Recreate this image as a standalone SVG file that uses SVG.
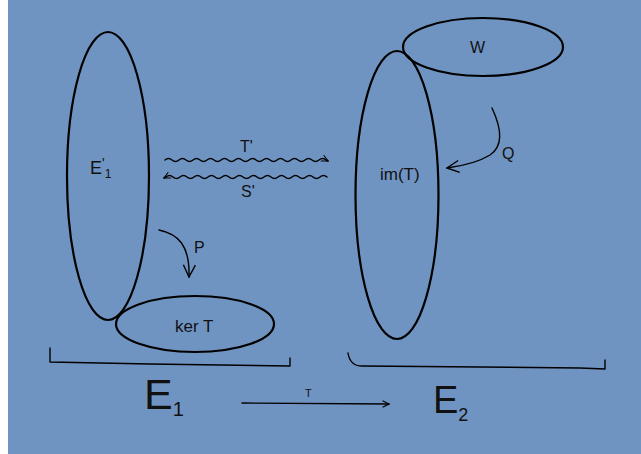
<svg xmlns="http://www.w3.org/2000/svg" width="641" height="454" viewBox="0 0 641 454">
<style>
.sh{fill:none;stroke:#000;stroke-width:2.2}
.ln{fill:none;stroke:#000;stroke-width:1.4;stroke-linecap:round;stroke-linejoin:round}
.t{font-family:"Liberation Sans",Arial,sans-serif;fill:#111}
</style>
<defs>
<marker id="ah" viewBox="0 0 10 10" refX="9" refY="5" markerWidth="8" markerHeight="8" markerUnits="userSpaceOnUse" orient="auto">
<path d="M1,1 L9,5 L1,9" fill="none" stroke="#000" stroke-width="1.4"/>
</marker>
<marker id="ahL" viewBox="0 0 14 14" refX="13" refY="7" markerWidth="14" markerHeight="14" markerUnits="userSpaceOnUse" orient="auto">
<path d="M1,1 L13,7 L1,13" fill="none" stroke="#000" stroke-width="1.4"/>
</marker>
</defs>
<rect width="641" height="454" fill="#7094c1"/>
<rect width="8" height="454" fill="#fff"/>
<g id="node-E1prime">
<ellipse class="sh" cx="108" cy="176" rx="41" ry="144"/>
<text class="t" x="90" y="174" font-size="18">E<tspan font-size="14" dy="-6">'</tspan><tspan font-size="12" dy="10">1</tspan></text>
</g>
<g id="node-kerT">
<ellipse class="sh" cx="195" cy="324" rx="79" ry="28"/>
<text class="t" x="175" y="332" font-size="17">ker T</text>
</g>
<g id="node-imT">
<ellipse class="sh" cx="397" cy="195" rx="41.5" ry="144"/>
<text class="t" x="380" y="180" font-size="17">im(T)</text>
</g>
<g id="node-W">
<ellipse class="sh" cx="483" cy="47" rx="80" ry="29"/>
<text class="t" x="470" y="53" font-size="16">W</text>
</g>
<g id="node-E1">
<text class="t" x="144" y="409" font-size="43">E<tspan font-size="20" dy="7">1</tspan></text>
</g>
<g id="node-E2">
<text class="t" x="433" y="413" font-size="38">E<tspan font-size="18" dy="8">2</tspan></text>
</g>
<g id="connectors">
<path class="ln" d="M50,348 L50,362 L150,364 L290,366 L290,358"/>
<path class="ln" d="M348,353 Q350,366 362,366 L480,367 L580,368 L605,369 L605,360"/>
<path class="ln" marker-end="url(#ah)" d="M165,160 q3.5,-3 7,0 t7,0 t7,0 t7,0 t7,0 t7,0 t7,0 t7,0 t7,0 t7,0 t7,0 t7,0 t7,0 t7,0 t7,0 t7,0 t7,0 t7,0 t7,0 t7,0 t7,0 t7,0 t7,0 l2,1"/>
<text class="t" x="240" y="152" font-size="16">T'</text>
<path class="ln" marker-end="url(#ah)" d="M327,177 q-3.5,-3 -7,0 t-7,0 t-7,0 t-7,0 t-7,0 t-7,0 t-7,0 t-7,0 t-7,0 t-7,0 t-7,0 t-7,0 t-7,0 t-7,0 t-7,0 t-7,0 t-7,0 t-7,0 t-7,0 t-7,0 t-7,0 t-7,0 t-7,0 l-2,1"/>
<text class="t" x="241" y="197" font-size="16">S'</text>
<path class="ln" marker-end="url(#ahL)" d="M159,230 C178,234 190,245 189,277"/>
<text class="t" x="194" y="253" font-size="16">P</text>
<path class="ln" marker-end="url(#ahL)" d="M492,108 C500,125 505,145 490,155 C477,163 462,166 447,168"/>
<text class="t" x="502" y="159" font-size="16">Q</text>
<path class="ln" marker-end="url(#ah)" d="M242,403 L389,404"/>
<text class="t" x="305" y="397" font-size="11">T</text>
</g>
</svg>
